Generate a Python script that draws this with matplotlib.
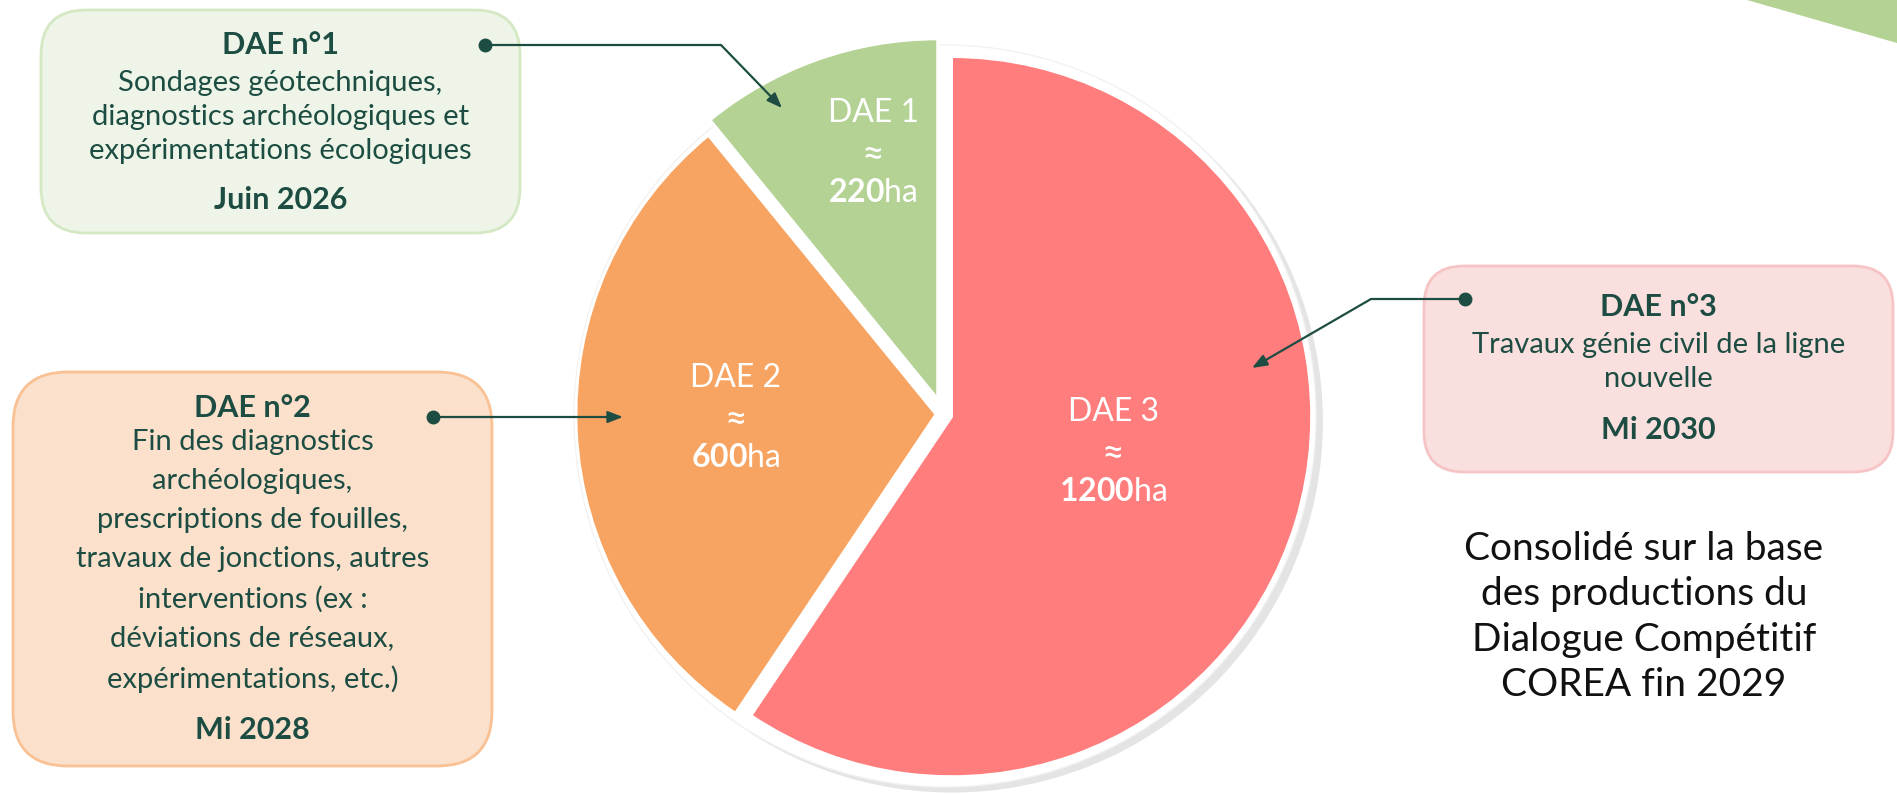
import matplotlib
matplotlib.use('Agg')
import matplotlib.pyplot as plt
from matplotlib.patches import FancyBboxPatch, Circle, Polygon
import matplotlib.patheffects as pe

plt.rcParams['font.family'] = ['Lato', 'DejaVu Sans']
plt.rcParams['mathtext.fontset'] = 'custom'
plt.rcParams['mathtext.rm'] = 'Lato'
plt.rcParams['mathtext.bf'] = 'Lato:bold'

# data
labels = ['DAE 1', 'DAE 2', 'DAE 3']
surfaces = [220, 600, 1200]  # ha
colors = ['#B5D295', '#F7A462', '#FF7D7D']

box_titles = ['DAE n°1', 'DAE n°2', 'DAE n°3']
box_texts = [
    'Sondages géotechniques,\ndiagnostics archéologiques et\nexpérimentations écologiques',
    'Fin des diagnostics\narchéologiques,\nprescriptions de fouilles,\ntravaux de jonctions, autres\n'
    'interventions (ex :\ndéviations de réseaux,\nexpérimentations, etc.)',
    'Travaux génie civil de la ligne\nnouvelle',
]
box_dates = ['Juin 2026', 'Mi 2028', 'Mi 2030']
note = 'Consolidé sur la base\ndes productions du\nDialogue Compétitif\nCOREA fin 2029'

dark = '#1D4D42'

W, H = 1897, 795
fig = plt.figure(figsize=(W / 100, H / 100), dpi=100)
ax = fig.add_axes([0, 0, 1, 1])

# decorative corner
ax.add_patch(Polygon([(1747, 0), (1897, 0), (1897, 43)], closed=True,
                     facecolor='#B5D295', edgecolor='none'))

# pie (explode is in data units = px here)
cx, cy, R = 943, 414, 360
ring = Circle((cx + 2, cy + 2), R + 11, facecolor='white', edgecolor='#f2f2f2', lw=1,
              path_effects=[pe.SimplePatchShadow(offset=(5, -4), shadow_rgbFace='#c4c4c4', alpha=0.45),
                            pe.Normal()], zorder=1)
ax.add_patch(ring)
wedges, _ = ax.pie(surfaces, colors=colors, startangle=-90, counterclock=False,
                   explode=[16, 7, 9], center=(cx, cy), radius=R,
                   wedgeprops=dict(edgecolor='white', linewidth=2), frame=True)
for w in wedges:
    w.set_zorder(2)
ax.set_xlim(0, W)
ax.set_ylim(H, 0)
ax.set_aspect('equal')
ax.axis('off')

# wedge labels
lab_pos = [(873, 113), (736, 378), (1113, 412)]
for (x, y), lab, val in zip(lab_pos, labels, surfaces):
    ax.text(x, y, lab, color='white', fontsize=23,
            ha='center', va='center', zorder=5)
    ax.text(x, y + 42, '≈', color='white', fontsize=28,
            ha='center', va='center', zorder=5)
    ax.text(x, y + 80, r'$\mathbf{%d}$ha' % val, color='white', fontsize=23,
            ha='center', va='center', zorder=5)

# callout boxes
boxes = [
    dict(x0=41, y0=10, x1=520, y1=233, fc='#EEF5E8', ec='#D5E8C4', r=45,
         ty=45, by=117, dy=200, ls=1.4),
    dict(x0=13, y0=372, x1=492, y1=766, fc='#FBE0CB', ec='#F9C194', r=55,
         ty=408, by=561, dy=730, ls=1.62),
    dict(x0=1424, y0=266, x1=1893, y1=472, fc='#FADFDF', ec='#F6C4C4', r=40,
         ty=307, by=362, dy=430, ls=1.4),
]
for b, title, txt, date in zip(boxes, box_titles, box_texts, box_dates):
    p = FancyBboxPatch((b['x0'], b['y0']), b['x1'] - b['x0'], b['y1'] - b['y0'],
                       boxstyle=f"round,pad=0,rounding_size={b['r']}",
                       facecolor=b['fc'], edgecolor=b['ec'], lw=2, zorder=3)
    ax.add_patch(p)
    mx = (b['x0'] + b['x1']) / 2
    ax.text(mx, b['ty'], title, color=dark, fontsize=22, fontweight='bold',
            ha='center', va='center', zorder=4)
    ax.text(mx, b['by'], txt, color=dark, fontsize=21, ha='center', va='center',
            linespacing=b['ls'], zorder=4)
    ax.text(mx, b['dy'], date, color=dark, fontsize=22, fontweight='bold',
            ha='center', va='center', zorder=4)

# connectors: dot, elbow, arrow tip
connectors = [
    [(485, 45), (721, 45), (782, 108)],
    [(433, 417), (623, 417)],
    [(1465, 299), (1371, 299), (1252, 368)],
]
for pts in connectors:
    xs = [p[0] for p in pts[:-1]]
    ys = [p[1] for p in pts[:-1]]
    ax.plot(xs, ys, color=dark, lw=1.6, zorder=6, solid_capstyle='butt')
    ax.plot(pts[0][0], pts[0][1], 'o', color=dark, ms=9, zorder=6)
    ax.annotate('', xy=pts[-1], xytext=pts[-2],
                arrowprops=dict(arrowstyle='-|>,head_length=0.9,head_width=0.35',
                                color=dark, lw=1.6, shrinkA=0, shrinkB=0), zorder=6)

ax.text(1644, 617, note, color='#111111', fontsize=28, ha='center', va='center',
        linespacing=1.33)

fig.savefig('out.png', dpi=100)
